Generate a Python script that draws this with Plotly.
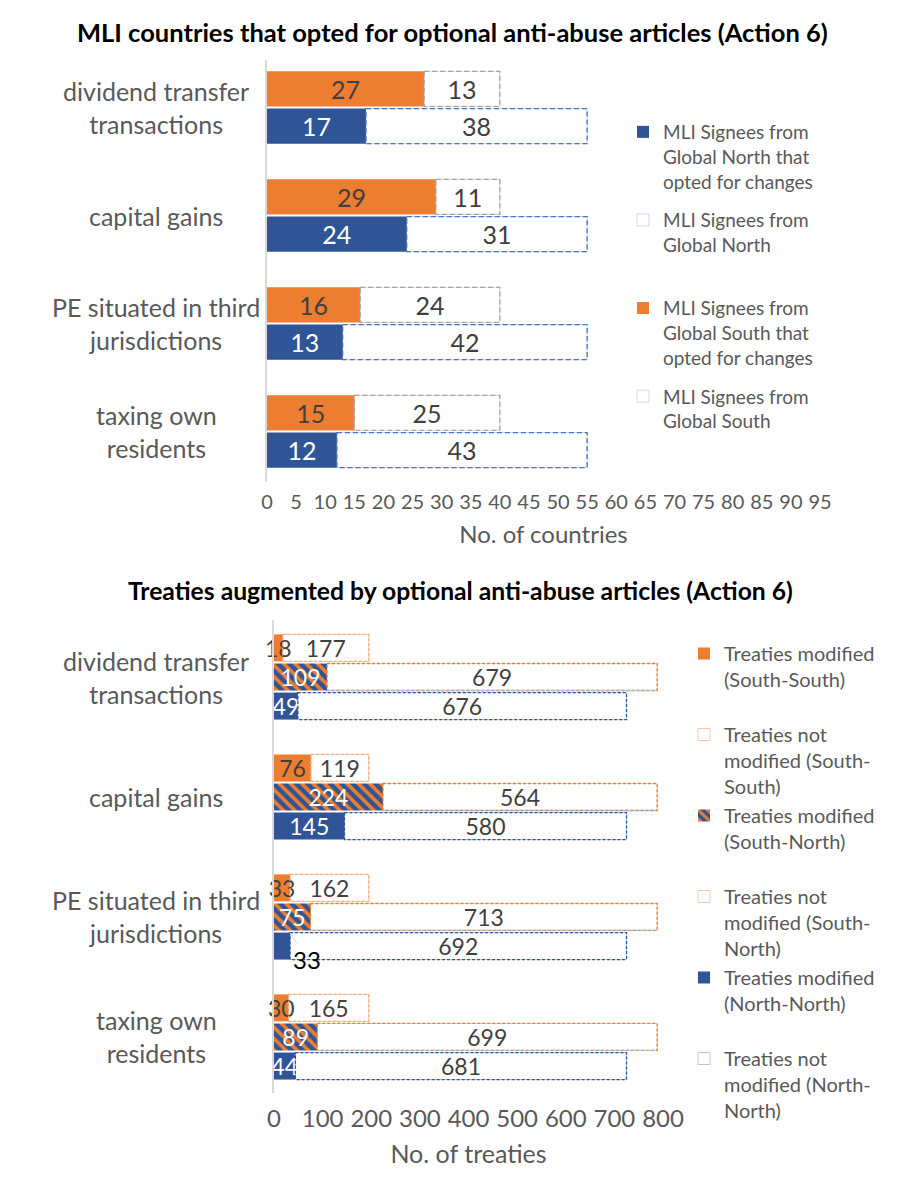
import plotly.graph_objects as go

FONT = "Lato, 'Open Sans', sans-serif"
W, H = 903, 1189
PAGE_OFFSET = 8  # default body margin of the page

# ---------------- data ----------------
categories = ["dividend transfer transactions", "capital gains",
              "PE situated in third jurisdictions", "taxing own residents"]
category_labels = ["dividend transfer<br>transactions", "capital gains",
                   "PE situated in third<br>jurisdictions", "taxing own<br>residents"]

# top chart: number of countries
north_opted = [17, 24, 13, 12]
north_not_opted = [38, 31, 42, 43]
south_opted = [27, 29, 16, 15]
south_not_opted = [13, 11, 24, 25]
country_ticks = list(range(0, 100, 5))

# bottom chart: number of treaties
ss_modified = [18, 76, 33, 30]
ss_not_modified = [177, 119, 162, 165]
sn_modified = [109, 224, 75, 89]
sn_not_modified = [679, 564, 713, 699]
nn_modified = [49, 145, 33, 44]
nn_not_modified = [676, 580, 692, 681]
treaty_ticks = list(range(0, 900, 100))

ORANGE = "#ED7D31"
BLUE = "#2F5597"
DARK = "#404040"
GREY = "#595959"

fig = go.Figure()
shapes = []


def px_x(p):
    return (p - PAGE_OFFSET) / W


def px_y(p):
    return 1 - (p - PAGE_OFFSET) / H


def add_bar(vals, base, offset, width, color, line_color, name, legend, rank, text_color,
            text_size, xaxis, yaxis, pattern=None, texts=None):
    marker = dict(color=color, line=dict(color=line_color or color, width=1 if line_color else 0))
    if pattern:
        marker["pattern"] = pattern
    fig.add_trace(go.Bar(
        x=vals, y=categories, base=base, orientation="h",
        offset=offset, width=width, name=name, legend=legend,
        legendgroup=name, legendrank=rank,
        marker=marker,
        text=texts if texts is not None else [str(v) for v in vals],
        texttemplate="%{text}", textposition="inside", insidetextanchor="middle",
        textangle=0, constraintext="none",
        textfont=dict(family=FONT, size=text_size, color=text_color),
        xaxis=xaxis, yaxis=yaxis, cliponaxis=False, hoverinfo="skip",
    ))


def add_dashed(mod, notmod, offset, width, color, dash, xref, yref, bottom_color=None):
    for i in range(len(categories)):
        y0 = i + offset
        y1 = i + offset + width
        x0 = mod[i]
        x1 = mod[i] + notmod[i]
        shapes.append(dict(type="rect", xref=xref, yref=yref, x0=x0, x1=x1, y0=y0, y1=y1,
                           line=dict(color=color, width=1.3, dash=dash), layer="above"))
        if bottom_color:
            shapes.append(dict(type="line", xref=xref, yref=yref, x0=x0, x1=x1, y0=y1, y1=y1,
                               line=dict(color=bottom_color, width=1.3, dash=dash), layer="above"))


# legend names (a trailing blank line keeps every legend entry the same height)
PAD = "<br> "

# ---------------- top chart ----------------
TW = 0.325
TS = 25
# unfilled segments first so filled-bar labels stay on top
add_bar(north_not_opted, north_opted, 0.01, TW, "white", "#C9D6EE",
        "MLI Signees from<br>Global North" + PAD, "legend", 2, DARK, TS, "x", "y")
add_bar(south_not_opted, south_opted, -0.335, TW, "white", "#DADADA",
        "MLI Signees from<br>Global South" + PAD, "legend", 4, DARK, TS, "x", "y")
add_bar(north_opted, None, 0.01, TW, BLUE, None,
        "MLI Signees from<br>Global North that<br>opted for changes", "legend", 1, "white", TS, "x", "y")
add_bar(south_opted, None, -0.335, TW, ORANGE, None,
        "MLI Signees from<br>Global South that<br>opted for changes", "legend", 3, DARK, TS, "x", "y")
add_dashed(north_opted, north_not_opted, 0.01, TW, "#4472C4", "5px,3px", "x", "y")
add_dashed(south_opted, south_not_opted, -0.335, TW, "#A5A5A5", "5px,3px", "x", "y")

# ---------------- bottom chart ----------------
BW = 0.225
BS = 23
add_bar(ss_not_modified, ss_modified, -0.355, BW, "white", "#F8CBAD",
        "Treaties not<br>modified (South-<br>South)", "legend2", 2, DARK, BS, "x2", "y2")
add_bar(sn_not_modified, sn_modified, -0.1125, BW, "white", "#F8CBAD",
        "Treaties not<br>modified (South-<br>North)", "legend2", 4, DARK, BS, "x2", "y2")
add_bar(nn_not_modified, nn_modified, 0.13, BW, "white", "#B4C7E7",
        "Treaties not<br>modified (North-<br>North)", "legend2", 6, DARK, BS, "x2", "y2")
add_bar(ss_modified, None, -0.355, BW, ORANGE, None,
        "Treaties modified<br>(South-South)" + PAD, "legend2", 1, DARK, BS, "x2", "y2")
add_bar(sn_modified, None, -0.1125, BW, BLUE, None,
        "Treaties modified<br>(South-North)" + PAD, "legend2", 3, "white", BS, "x2", "y2",
        pattern=dict(shape="\\", fgcolor=ORANGE, bgcolor=BLUE, size=8, solidity=0.45,
                     fillmode="replace"))
nn_texts = [str(v) for v in nn_modified]
nn_texts[2] = ""
add_bar(nn_modified, None, 0.13, BW, BLUE, None,
        "Treaties modified<br>(North-North)" + PAD, "legend2", 5, "white", BS, "x2", "y2",
        texts=nn_texts)
add_dashed(ss_modified, ss_not_modified, -0.355, BW, "#F4B183", "3px,2px", "x2", "y2")
add_dashed(sn_modified, sn_not_modified, -0.1125, BW, ORANGE, "3px,2px", "x2", "y2",
           bottom_color="#9DC3E6")
add_dashed(nn_modified, nn_not_modified, 0.13, BW, "#2F5597", "3px,2px", "x2", "y2")

annotations = []
# titles
annotations.append(dict(text="<b>MLI countries that opted for optional anti-abuse articles (Action 6)</b>",
                        x=px_x(452), y=px_y(32), xref="paper", yref="paper", showarrow=False,
                        xanchor="center", yanchor="middle",
                        font=dict(family=FONT, size=25.5, color="black")))
annotations.append(dict(text="<b>Treaties augmented by optional anti-abuse articles (Action 6)</b>",
                        x=px_x(461), y=px_y(590), xref="paper", yref="paper", showarrow=False,
                        xanchor="center", yanchor="middle",
                        font=dict(family=FONT, size=24.7, color="black")))
# category labels
for cat, lab in zip(categories, category_labels):
    for yref in ("y", "y2"):
        annotations.append(dict(text=lab, x=px_x(156), y=cat, xref="paper", yref=yref,
                                showarrow=False, xanchor="center", yanchor="middle",
                                align="center",
                                font=dict(family=FONT, size=25, color=GREY)))
# moved data label with leader line
annotations.append(dict(text=str(nn_modified[2]), x=nn_modified[2], y=2 + 0.13, xref="x2", yref="y2",
                        showarrow=True, arrowhead=0, arrowwidth=1, arrowcolor="#D9D9D9",
                        ax=17, ay=27, standoff=0,
                        font=dict(family=FONT, size=24, color="black")))

fig.update_layout(
    width=W, height=H, margin=dict(l=0, r=0, t=0, b=0, autoexpand=False),
    paper_bgcolor="white", plot_bgcolor="white",
    barmode="overlay",
    font=dict(family=FONT, color=GREY),
    showlegend=True,
    shapes=shapes, annotations=annotations,
    xaxis=dict(domain=[px_x(267), px_x(820)], range=[0, 95], tickvals=country_ticks,
               showgrid=False, zeroline=False, showline=False, ticks="",
               ticklabelstandoff=6,
               tickfont=dict(family=FONT, size=20, color=GREY),
               title=dict(text="No. of countries", font=dict(family=FONT, size=24, color=GREY),
                          standoff=14),
               anchor="y", fixedrange=True),
    yaxis=dict(domain=[px_y(482), px_y(60)], range=[3.468, -0.44], type="category",
               showticklabels=False, showline=True, linecolor="#D9D9D9", linewidth=1.5,
               showgrid=False, zeroline=False, anchor="x", fixedrange=True),
    xaxis2=dict(domain=[px_x(274), px_x(663)], range=[0, 800], tickvals=treaty_ticks,
                showgrid=False, zeroline=False, showline=False, ticks="",
                ticklabelstandoff=9,
                tickfont=dict(family=FONT, size=24, color=GREY),
                title=dict(text="No. of treaties", font=dict(family=FONT, size=25, color=GREY),
                           standoff=14),
                anchor="y2", fixedrange=True),
    yaxis2=dict(domain=[px_y(1093), px_y(620)], range=[3.467, -0.475], type="category",
                showticklabels=False, showline=True, linecolor="#D9D9D9", linewidth=1.5,
                showgrid=False, zeroline=False, anchor="x2", fixedrange=True),
    legend=dict(x=px_x(623), y=px_y(113), xanchor="left", yanchor="top", valign="top",
                font=dict(family=FONT, size=19, color=GREY), traceorder="grouped",
                tracegroupgap=11, bgcolor="rgba(0,0,0,0)", itemclick=False,
                itemdoubleclick=False),
    legend2=dict(x=px_x(684), y=px_y(634), xanchor="left", yanchor="top", valign="top",
                 font=dict(family=FONT, size=20, color=GREY), traceorder="grouped",
                 tracegroupgap=0, bgcolor="rgba(0,0,0,0)", itemclick=False,
                 itemdoubleclick=False),
)

fig.write_html("out.html")
